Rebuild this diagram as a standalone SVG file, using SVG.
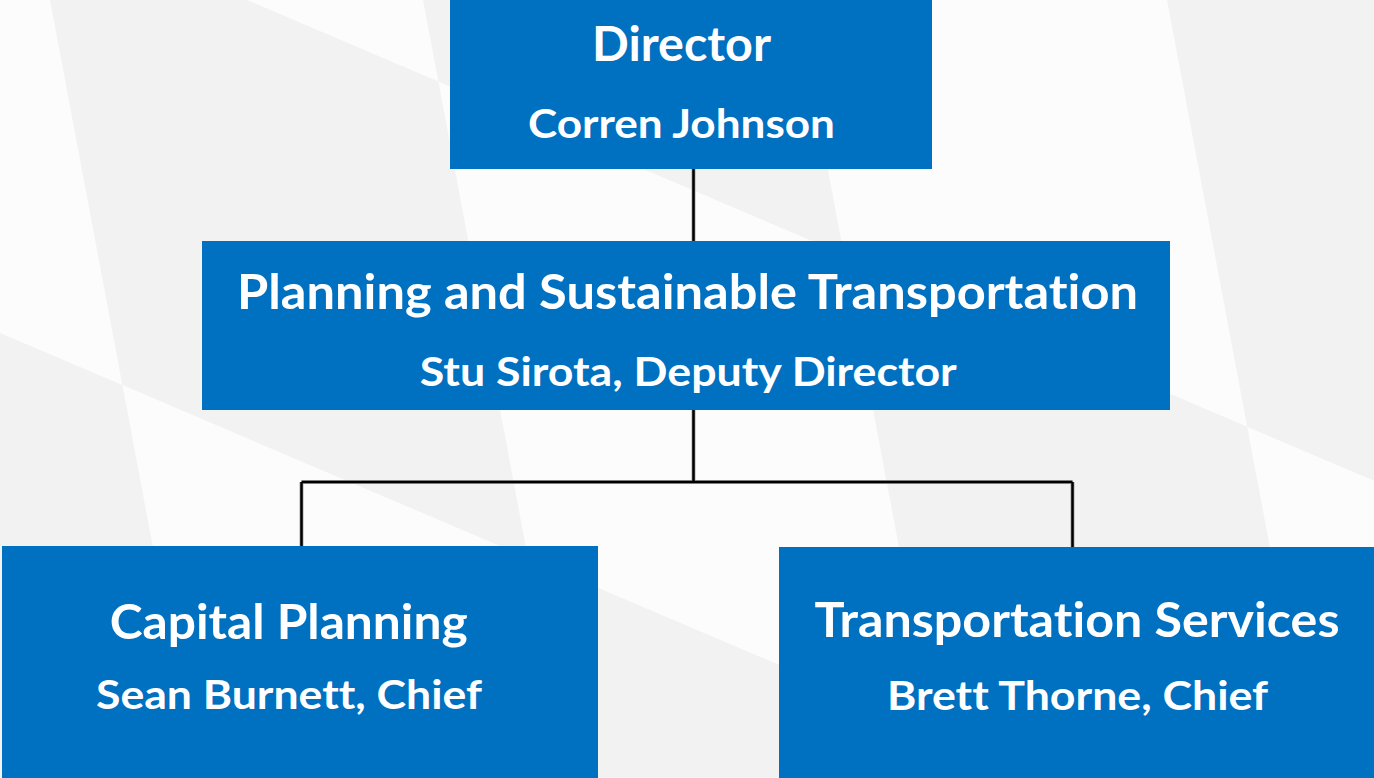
<svg xmlns="http://www.w3.org/2000/svg" width="1374" height="778" viewBox="0 0 1374 778">
  <style>
    .bgw { fill: #fcfcfc; }
    .bgg { fill: #f2f2f2; }
    .box { fill: #0070c0; }
    .t { fill: #ffffff; font-family: Lato, "Open Sans", "Liberation Sans", sans-serif; font-weight: 700; text-anchor: middle; font-variant-ligatures: none; font-feature-settings: "liga" 0, "clig" 0, "dlig" 0; }
    .h { font-size: 47px; }
    .s { font-size: 40px; }
    .halo { fill: none; stroke: #a8a8a8; stroke-width: 4; }
    .wire { fill: none; stroke: #000000; stroke-width: 2.5; }
  </style>
  <g id="background">
    <rect class="bgw" x="0" y="0" width="1374" height="778"/>
    <polygon class="bgg" points="0,333 122.4,385.1 196.3,778 0,778"/>
    <polygon class="bgg" points="50,0 247.1,0 438.4,81.6 527.9,557.9 122.4,385.1"/>
    <polygon class="bgg" points="423,0 796,0 843.9,254.6 438.4,81.6"/>
    <polygon class="bgg" points="527.9,557.9 933.4,730.6 942.3,778 569.3,778"/>
    <polygon class="bgg" points="843.9,254.6 1247.2,426.7 1313.3,778 1044.6,778 933.4,730.6"/>
    <polygon class="bgg" points="1167,0 1374,0 1374,480.7 1247.2,426.7"/>
  </g>
  <g id="connectors">
    <path class="halo" d="M693.5 169 V241 M693.5 410 V482 M301.5 482 H1072.5 M301.5 482 V546 M1072.5 482 V547"/>
    <path class="wire" d="M693.5 169 V241 M693.5 410 V482 M301.5 482 H1072.5 M301.5 482 V546 M1072.5 482 V547"/>
  </g>
  <g id="director">
    <rect class="box" x="450" y="0" width="482" height="169"/>
    <text class="t h" x="681.5" y="61" textLength="179" lengthAdjust="spacingAndGlyphs">Director</text>
    <text class="t s" x="681.5" y="138" textLength="307" lengthAdjust="spacingAndGlyphs">Corren Johnson</text>
  </g>
  <g id="planning-sustainable-transportation">
    <rect class="box" x="202" y="241" width="968" height="169"/>
    <text class="t h" x="687.5" y="309" textLength="901" lengthAdjust="spacingAndGlyphs">Planning and Sustainable Transportation</text>
    <text class="t s" x="688.3" y="386" textLength="537" lengthAdjust="spacingAndGlyphs">Stu Sirota, Deputy Director</text>
  </g>
  <g id="capital-planning">
    <rect class="box" x="2" y="546" width="596" height="232"/>
    <text class="t h" x="288.7" y="639" textLength="358" lengthAdjust="spacingAndGlyphs">Capital Planning</text>
    <text class="t s" x="289" y="709" textLength="386" lengthAdjust="spacingAndGlyphs">Sean Burnett, Chief</text>
  </g>
  <g id="transportation-services">
    <rect class="box" x="779" y="547" width="595" height="231"/>
    <text class="t h" x="1077" y="637" textLength="525" lengthAdjust="spacingAndGlyphs">Transportation Services</text>
    <text class="t s" x="1077.5" y="710" textLength="381" lengthAdjust="spacingAndGlyphs">Brett Thorne, Chief</text>
  </g>
</svg>
